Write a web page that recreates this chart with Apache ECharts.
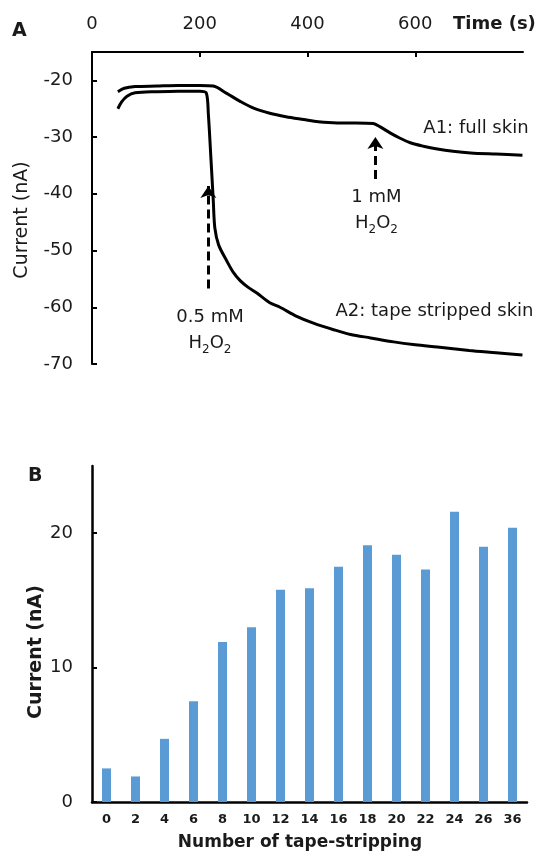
<!DOCTYPE html>
<html><head><meta charset="utf-8">
<script src="https://cdn.jsdelivr.net/npm/echarts@6/dist/echarts.min.js"></script>
<style>html,body{margin:0;padding:0;background:#fff}#c{width:545px;height:853px}</style>
</head><body><div id="c"></div>
<script>
// Panel A: amperometric traces (time in s, current in nA)
var timeA1 = [48,60,80,120,160,200,225,250,275,300,330,360,393,420,455,490,522,535,554,572,591,615,641,670,703,750,799];
var currA1 = [-22.0,-21.4,-21.1,-21.0,-20.9,-20.9,-21.0,-22.3,-23.7,-24.9,-25.8,-26.4,-26.9,-27.3,-27.5,-27.5,-27.6,-28.2,-29.3,-30.2,-31.0,-31.6,-32.1,-32.5,-32.8,-33.0,-33.2];
var timeA2 = [48,55,65,80,120,160,200,212,216,221,225,228,235,250,262,275,290,306,330,349,380,411,450,480,517,560,600,641,700,750,799];
var currA2 = [-25.0,-23.8,-22.8,-22.2,-22.0,-21.9,-21.9,-22.2,-26.0,-34.2,-41.0,-46.0,-49.0,-51.8,-53.8,-55.3,-56.5,-57.5,-59.2,-60.0,-61.6,-62.8,-64.0,-64.8,-65.4,-66.1,-66.6,-67.0,-67.6,-68.0,-68.4];
var timeTicksA = [0,200,400,600];
var currTicksA = [-70,-60,-50,-40,-30,-20];
// Panel B
var stripCats = ['0','2','4','6','8','10','12','14','16','18','20','22','24','26','36'];
var stripCurr = [2.5,1.9,4.7,7.5,11.9,13.0,15.8,15.9,17.5,19.1,18.4,17.3,21.6,19.0,20.4];
var currTicksB = [0,10,20];

var FF = 'DejaVu Sans';
var TXT = '#1a1a1a';
function pairs(xs, ys){ return xs.map(function(x,i){return [x, ys[i]];}); }
var h2o2Rich = {
  n:{fontSize:18,fontFamily:FF,color:TXT,lineHeight:26},
  s:{fontSize:12,fontFamily:FF,color:TXT,lineHeight:26,verticalAlign:'bottom',padding:[10,0,0,0]}
};

var chart = echarts.init(document.getElementById('c'), null, {renderer:'canvas'});
chart.setOption({
  animation:false,
  backgroundColor:'#fff',
  grid:[
    {left:92, top:52, right:22, bottom:489},
    {left:92, top:466, right:18, bottom:51}
  ],
  xAxis:[
    {gridIndex:0, type:'value', position:'top', min:0, max:800,
     axisLine:{show:true,onZero:false,lineStyle:{color:'#000',width:2}},
     axisTick:{show:true,inside:true,length:5,customValues:[200,400,600],lineStyle:{color:'#000',width:2}},
     axisLabel:{customValues:timeTicksA,fontSize:18,fontFamily:FF,color:TXT,margin:19},
     splitLine:{show:false}},
    {gridIndex:1, type:'category', data:stripCats,
     axisLine:{show:true,lineStyle:{color:'#000',width:2.5}},
     axisTick:{show:false},
     axisLabel:{fontSize:13,fontWeight:'bold',fontFamily:FF,color:TXT,margin:11,interval:0}}
  ],
  yAxis:[
    {gridIndex:0, type:'value', min:-70, max:-15,
     axisLine:{show:true,onZero:false,lineStyle:{color:'#000',width:2}},
     axisTick:{show:true,inside:true,length:5,customValues:currTicksA,lineStyle:{color:'#000',width:2}},
     axisLabel:{customValues:currTicksA,fontSize:18,fontFamily:FF,color:TXT,margin:19},
     splitLine:{show:false}},
    {gridIndex:1, type:'value', min:0, max:25,
     axisLine:{show:true,lineStyle:{color:'#000',width:2.5}},
     axisTick:{show:true,inside:true,length:5,customValues:currTicksB,lineStyle:{color:'#000',width:2}},
     axisLabel:{customValues:currTicksB,fontSize:18,fontFamily:FF,color:TXT,margin:19},
     splitLine:{show:false}}
  ],
  series:[
    {name:'A1: full skin', type:'line', xAxisIndex:0, yAxisIndex:0, data:pairs(timeA1,currA1),
     showSymbol:false, smooth:0.3, lineStyle:{color:'#000',width:3}, z:3,
     markLine:{silent:true, symbol:['none','arrow'], symbolSize:[12,12],
       lineStyle:{color:'#000',width:3,type:[9,5]}, label:{show:false},
       data:[
         [{coord:[216,-56.7]},{coord:[216,-38.6]}],
         [{coord:[526,-37.4]},{coord:[526,-30.0]}]
       ]},
     markPoint:{silent:true, symbol:'circle', symbolSize:0,
       data:[
         {coord:[219,-64.0], label:{show:true,position:'inside',align:'center',verticalAlign:'middle',
           formatter:'{n|0.5 mM}\n{n|H}{s|2}{n|O}{s|2}', rich:h2o2Rich}},
         {coord:[528,-42.9], label:{show:true,position:'inside',align:'center',verticalAlign:'middle',
           formatter:'{n|1 mM}\n{n|H}{s|2}{n|O}{s|2}', rich:h2o2Rich}},
         {coord:[615,-28.4], label:{show:true,position:'inside',align:'left',verticalAlign:'middle',
           formatter:'A1: full skin',fontSize:18,fontFamily:FF,color:TXT}},
         {coord:[452,-60.7], label:{show:true,position:'inside',align:'left',verticalAlign:'middle',
           formatter:'A2: tape stripped skin',fontSize:18,fontFamily:FF,color:TXT}}
       ]}},
    {name:'A2: tape stripped skin', type:'line', xAxisIndex:0, yAxisIndex:0, data:pairs(timeA2,currA2),
     showSymbol:false, smooth:0.3, lineStyle:{color:'#000',width:3}, z:3},
    {name:'Current', type:'bar', xAxisIndex:1, yAxisIndex:1, data:stripCurr,
     barWidth:9, itemStyle:{color:'#5b9bd5'}}
  ],
  graphic:[
    {type:'text', left:12, top:22, style:{text:'A',font:'bold 19px "DejaVu Sans"',fill:TXT}},
    {type:'text', left:28, top:467, style:{text:'B',font:'bold 19px "DejaVu Sans"',fill:TXT}},
    {type:'text', left:453, top:15, style:{text:'Time (s)',font:'bold 18px "DejaVu Sans"',fill:TXT}},
    {type:'text', x:22, y:220, rotation:Math.PI/2,
     style:{text:'Current (nA)',font:'19px "DejaVu Sans"',fill:TXT,align:'center',verticalAlign:'middle'}},
    {type:'text', x:36, y:652, rotation:Math.PI/2,
     style:{text:'Current (nA)',font:'bold 19px "DejaVu Sans"',fill:TXT,align:'center',verticalAlign:'middle'}},
    {type:'text', x:300, y:843,
     style:{text:'Number of tape-stripping',font:'bold 17px "DejaVu Sans"',fill:TXT,align:'center',verticalAlign:'middle'}}
  ]
});
</script></body></html>
